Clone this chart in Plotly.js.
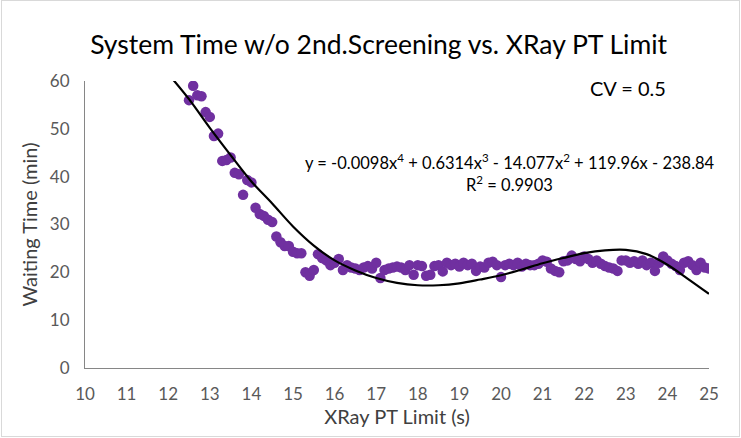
<!DOCTYPE html>
<html><head><meta charset="utf-8">
<script src="https://cdn.plot.ly/plotly-3.0.1.min.js"></script>
<style>
html,body{margin:0;padding:0;background:#fff;}
#wrap{position:relative;width:741px;height:438px;}
#chart{width:741px;height:438px;}
#frame{position:absolute;left:1px;top:0px;width:737px;height:435px;border:1px solid #d9d9d9;pointer-events:none;}
</style></head>
<body><div id="wrap"><div id="chart"></div><div id="frame"></div></div>
<script>
const xLimit = [12.5,12.6,12.7,12.8,12.9,13.0,13.1,13.2,13.3,13.4,13.5,13.6,13.7,13.8,13.9,14.0,14.1,14.2,14.3,14.4,14.5,14.6,14.7,14.8,14.9,15.0,15.1,15.2,15.3,15.4,15.5,15.6,15.7,15.8,15.9,16.0,16.1,16.2,16.3,16.4,16.5,16.6,16.7,16.8,16.9,17.0,17.1,17.2,17.3,17.4,17.5,17.6,17.7,17.8,17.9,18.0,18.1,18.2,18.3,18.4,18.5,18.6,18.7,18.8,18.9,19.0,19.1,19.2,19.3,19.4,19.5,19.6,19.7,19.8,19.9,20.0,20.1,20.2,20.3,20.4,20.5,20.6,20.7,20.8,20.9,21.0,21.1,21.2,21.3,21.4,21.5,21.6,21.7,21.8,21.9,22.0,22.1,22.2,22.3,22.4,22.5,22.6,22.7,22.8,22.9,23.0,23.1,23.2,23.3,23.4,23.5,23.6,23.7,23.8,23.9,24.0,24.1,24.2,24.3,24.4,24.5,24.6,24.7,24.8,24.9,25.0];
const waitTime = [56.0,59.0,57.0,56.8,53.5,52.5,48.5,49.0,43.3,43.5,44.0,40.8,40.5,36.2,39.3,38.8,33.5,32.2,31.8,31.0,30.5,27.5,26.3,25.5,25.5,24.3,24.0,24.0,20.0,19.3,20.5,23.8,23.0,22.5,21.5,22.0,22.8,20.5,21.5,21.0,20.8,20.5,21.0,21.3,20.8,22.0,18.8,20.5,20.8,21.0,21.2,21.0,20.5,21.5,19.5,21.5,21.3,19.3,19.5,21.3,21.5,20.2,22.0,21.5,21.8,21.2,22.0,21.5,21.8,20.3,21.2,21.0,22.0,22.2,21.5,19.0,21.5,21.8,21.5,22.0,21.2,21.8,21.5,21.5,21.8,22.5,22.2,20.8,20.3,20.0,22.3,22.5,23.5,22.8,22.3,23.3,22.8,22.0,22.5,21.8,21.3,21.0,20.8,20.3,22.5,22.5,22.0,22.3,21.8,22.5,21.5,22.0,20.3,22.0,23.3,22.5,21.8,21.3,20.5,22.0,22.3,21.5,20.5,22.0,21.0,20.8];
const trendX = [12.0,12.5,13.0,13.5,14.0,14.5,15.0,15.5,16.0,16.5,17.0,17.5,18.0,18.5,19.0,19.5,20.0,20.5,21.0,21.5,22.0,22.5,23.0,23.5,24.0,24.5,25.0];
const trendY = [61.5,56.2,50.2,44.5,39.0,34.4,29.6,25.6,22.5,20.4,18.8,17.8,17.3,17.3,17.7,18.5,19.4,20.6,21.9,23.0,24.0,24.6,24.7,23.8,21.6,18.6,15.5];
const xTicks = [10,11,12,13,14,15,16,17,18,19,20,21,22,23,24,25];
const yTicks = [0,10,20,30,40,50,60];

const font = "Lato, 'Open Sans', sans-serif";
const data = [
  {x: xLimit, y: waitTime, type:'scatter', mode:'markers',
   marker:{color:'#7030A0', size:10.5, line:{width:0}}, hoverinfo:'x+y'},
  {x: trendX, y: trendY, type:'scatter', mode:'lines',
   line:{color:'#000000', width:2.2, shape:'spline', smoothing:1}, hoverinfo:'skip'}
];
const layout = {
  width:741, height:438,
  margin:{l:85, r:32, t:81, b:70},
  paper_bgcolor:'#fff', plot_bgcolor:'#fff',
  showlegend:false,
  font:{family:font, color:'#595959'},
  title:{text:'System Time w/o 2nd.Screening vs. XRay PT Limit', xref:'container', x:0.511, xanchor:'center',
         yref:'container', y:0.897, yanchor:'middle',
         font:{family:font, size:26.5, color:'#000'}},
  xaxis:{range:[10,25], tickvals:xTicks, ticktext:xTicks.map(String), showgrid:false, zeroline:false,
         showline:true, linecolor:'#868686', linewidth:1, ticks:'outside', ticklen:11, tickcolor:'rgba(0,0,0,0)',
         tickfont:{size:17, color:'#595959'},
         title:{text:'XRay PT Limit (s)', font:{size:20, color:'#404040'}, standoff:6}},
  yaxis:{range:[0,60], tickvals:yTicks, ticktext:yTicks.map(String), showgrid:false, zeroline:false,
         showline:true, linecolor:'#868686', linewidth:1, ticks:'outside', ticklen:11, tickcolor:'rgba(0,0,0,0)',
         tickfont:{size:17, color:'#595959'},
         title:{text:'Waiting Time (min)', font:{size:20, color:'#404040'}, standoff:6}},
  annotations:[
    {text:'CV = 0.5', xref:'paper', yref:'paper', x:0.87, y:0.976, xanchor:'center', yanchor:'middle',
     showarrow:false, font:{family:font, size:20, color:'#000'}},
    {text:'y = -0.0098x<sup>4</sup> + 0.6314x<sup>3</sup> - 14.077x<sup>2</sup> + 119.96x - 238.84', xref:'paper', yref:'paper',
     x:0.681, y:0.718, xanchor:'center', yanchor:'middle', showarrow:false, font:{family:font, size:16.5, color:'#000'}},
    {text:'R<sup>2</sup> = 0.9903', xref:'paper', yref:'paper', x:0.681, y:0.641, xanchor:'center', yanchor:'middle',
     showarrow:false, font:{family:font, size:16.5, color:'#000'}}
  ]
};
Plotly.newPlot('chart', data, layout, {displayModeBar:false, staticPlot:true});
</script></body></html>
